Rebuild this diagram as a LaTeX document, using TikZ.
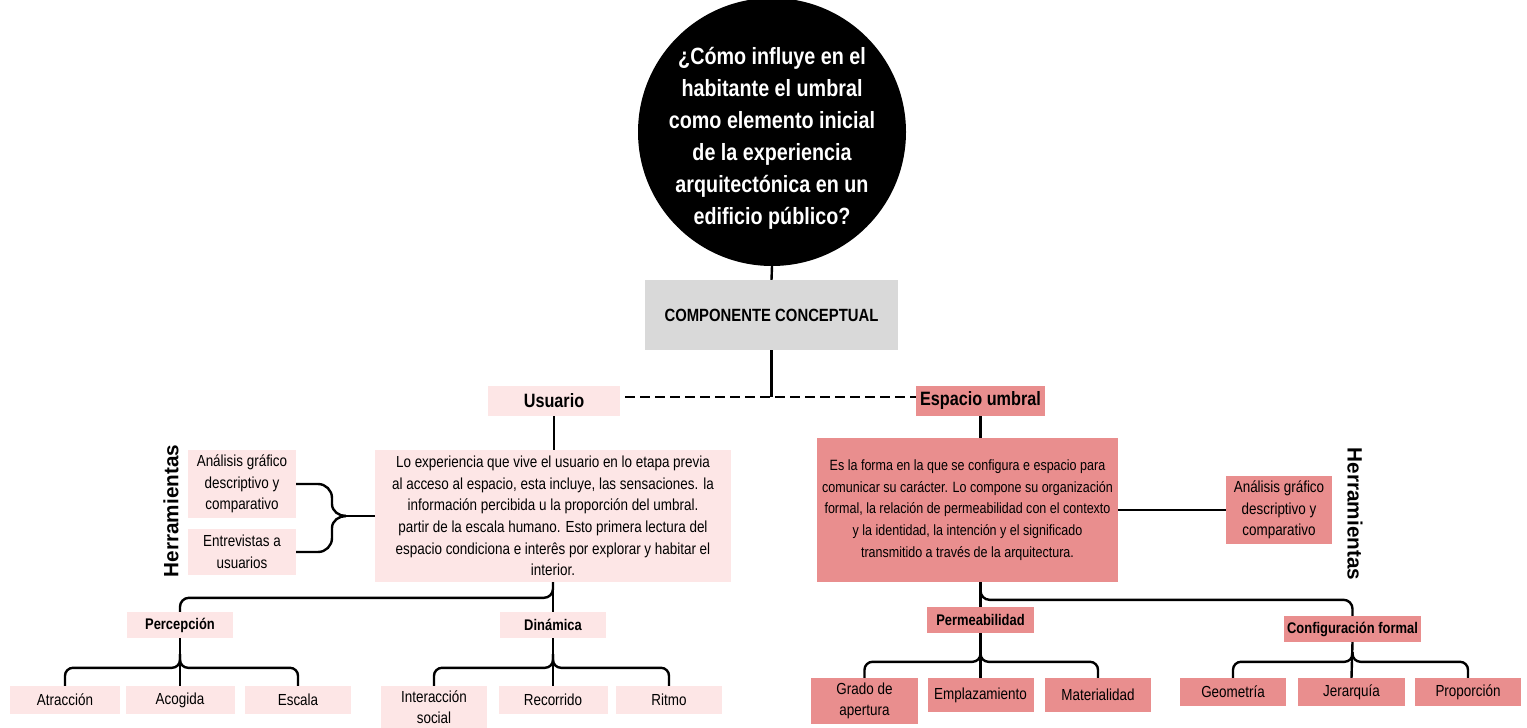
\documentclass[tikz,border=0pt]{standalone}
\usepackage{fontspec}
\setmainfont{Liberation Sans}[FakeStretch=0.84]
\newfontfamily\herrfont{Liberation Sans}
\usetikzlibrary{calc}
\definecolor{lpink}{HTML}{FDE6E6}
\definecolor{salmon}{HTML}{E98E8E}
\definecolor{lgray}{HTML}{D9D9D9}
\tikzset{
  box/.style={inner sep=0pt, align=center, font=\fontsize{16}{21.6}\selectfont},
  pbox/.style={box, fill=lpink},
  sbox/.style={box, fill=salmon},
  bbox/.style={font=\bfseries\fontsize{15.4}{17}\selectfont},
  conn/.style={line width=2.4pt, black},
  herr/.style={font=\herrfont\bfseries\fontsize{20.7}{21}\selectfont, inner sep=0pt}
}
\begin{document}
\begin{tikzpicture}[x=1pt,y=-1pt]
\useasboundingbox (0,0) rectangle (1527,728);

% question
\node[circle, fill=black, minimum size=268pt, inner sep=0pt] (q) at (772,132) {};
\node[text=white, align=center, inner sep=0pt,
  font=\bfseries\fontsize{23.5}{32}\selectfont] (qt) at (772,138)
  {¿Cómo influye en el\\habitante el umbral\\como elemento inicial\\de la experiencia\\arquitectónica en un\\edificio público?};

\node[box, fill=lgray, minimum width=253pt, minimum height=70pt, font=\bfseries\fontsize{17.7}{20}\selectfont] (comp) at (771.5,315) {COMPONENTE CONCEPTUAL};

\node[pbox, minimum width=132pt, minimum height=30pt, font=\bfseries\fontsize{19.3}{21}\selectfont] (usu) at (554,401) {Usuario};
\node[sbox, minimum width=129pt, minimum height=30pt, font=\bfseries\fontsize{19.3}{21}\selectfont] (esp) at (980.5,401) {Espacio umbral};

\node[pbox, minimum width=356pt, minimum height=132pt] (usut) at (553,516)
  {Lo experiencia que vive el usuario en lo etapa previa\\al acceso al espacio, esta incluye, las sensaciones. la\\información percibida u la proporción del umbral.\\partir de la escala humano. Esto primera lectura del\\espacio condiciona e interês por explorar y habitar el\\interior.};
\node[sbox, minimum width=301pt, minimum height=144pt, font=\fontsize{14.9}{21.6}\selectfont] (espt) at (967.5,510)
  {Es la forma en la que se configura e espacio para\\comunicar su carácter. Lo compone su organización\\formal, la relación de permeabilidad con el contexto\\y la identidad, la intención y el significado\\transmitido a través de la arquitectura.};

\node[pbox, minimum width=108pt, minimum height=68pt] (a1) at (242,484) {Análisis gráfico\\descriptivo y\\comparativo};
\node[pbox, minimum width=108pt, minimum height=46pt] (a2) at (242,552) {Entrevistas a\\usuarios};
\node[herr, rotate=90] (hl) at (171,511) {Herramientas};

\node[sbox, minimum width=106pt, minimum height=68pt] (a3) at (1279,510) {Análisis gráfico\\descriptivo y\\comparativo};
\node[herr, rotate=-90] (hr) at (1355,514) {Herramientas};

% level 2 left
\node[pbox, bbox, minimum width=106pt, minimum height=26pt] (perc) at (180,625) {Percepción};
\node[pbox, bbox, minimum width=106pt, minimum height=26pt] (din) at (553,625) {Dinámica};

\node[pbox, minimum width=110pt, minimum height=28pt] (atr) at (65,700) {Atracción};
\node[pbox, minimum width=109pt, minimum height=28pt] (acog) at (180,700) {Acogida};
\node[pbox, minimum width=106pt, minimum height=28pt] (esc) at (298,700) {Escala};

\node[pbox, minimum width=106pt, minimum height=42pt] (inter) at (434,707) {Interacción\\social};
\node[pbox, minimum width=109pt, minimum height=28pt] (recor) at (553,700) {Recorrido};
\node[pbox, minimum width=106pt, minimum height=28pt] (ritmo) at (669,700) {Ritmo};

% level 2 right
\node[sbox, bbox, minimum width=107pt, minimum height=26pt] (perm) at (980.5,620) {Permeabilidad};
\node[sbox, bbox, minimum width=137pt, minimum height=26pt] (conf) at (1352.5,629) {Configuración formal};

\node[sbox, minimum width=107pt, minimum height=46pt] (grado) at (864.5,701) {Grado de\\apertura};
\node[sbox, minimum width=106pt, minimum height=34pt] (empl) at (980.5,695) {Emplazamiento};
\node[sbox, minimum width=106pt, minimum height=34pt] (mat) at (1098,695) {Materialidad};

\node[sbox, minimum width=106pt, minimum height=28pt] (geo) at (1233,692) {Geometría};
\node[sbox, minimum width=107pt, minimum height=28pt] (jer) at (1351.5,692) {Jerarquía};
\node[sbox, minimum width=106pt, minimum height=28pt] (prop) at (1468,692) {Proporción};

% connectors
\draw[conn] (q.south) -- (comp.north);
\coordinate (dj) at (comp.south |- 0,397);
\draw[conn] (comp.south) -- (dj);
\draw[conn, dash pattern=on 10pt off 5pt] ($(usu.east)+(5,-4)$) -- ($(esp.west)+(0,-4)$);
\draw[conn] (usu.south) -- (usu.south |- usut.north);
\draw[conn] (esp.south) -- (esp.south |- espt.north);

% brace left
\coordinate (bt) at (346,516);
\draw[conn] (a1.east) -- (318,484) to[out=0,in=90] (332,498) -- (332,504) to[out=-90,in=180] (bt);
\draw[conn] (a2.east) -- (318,552) to[out=0,in=-90] (332,538) -- (332,528) to[out=90,in=180] (bt);
\draw[conn] (bt) -- (usut.west);
\draw[conn] (espt.east) -- (a3.west);

% Usuario tree
\draw[conn] (usut.south) -- (din.north);
\draw[conn, rounded corners=9pt] (usut.south) |- ($(perc.north)+(0,-14)$) -- (perc.north);

\draw[conn] (perc.south) -- (acog.north);
\draw[conn, rounded corners=8pt] ($(perc.south)+(0,16)$) |- ($(atr.north)+(0,-18)$) -- (atr.north);
\draw[conn, rounded corners=8pt] ($(perc.south)+(0,16)$) |- ($(esc.north)+(0,-18)$) -- (esc.north);

\draw[conn] (din.south) -- (recor.north);
\draw[conn, rounded corners=8pt] ($(din.south)+(0,16)$) |- ($(inter.north)+(0,-18)$) -- (inter.north);
\draw[conn, rounded corners=8pt] ($(din.south)+(0,16)$) |- ($(ritmo.north)+(0,-18)$) -- (ritmo.north);

% Espacio tree
\coordinate (eb) at (esp.south |- espt.south);
\draw[conn] (eb) -- (perm.north);
\draw[conn, rounded corners=9pt] (eb) |- ($(conf.north)+(0,-16)$) -- (conf.north);

\draw[conn] (perm.south) -- (empl.north);
\draw[conn, rounded corners=8pt] ($(perm.south)+(0,14)$) |- ($(grado.north)+(0,-16)$) -- (grado.north);
\draw[conn, rounded corners=8pt] ($(perm.south)+(0,14)$) |- ($(mat.north)+(0,-16)$) -- (mat.north);

\draw[conn] (conf.south) -- (jer.north);
\draw[conn, rounded corners=8pt] ($(conf.south)+(0,10)$) |- ($(geo.north)+(0,-16)$) -- (geo.north);
\draw[conn, rounded corners=8pt] ($(conf.south)+(0,10)$) |- ($(prop.north)+(0,-16)$) -- (prop.north);
\end{tikzpicture}
\end{document}
